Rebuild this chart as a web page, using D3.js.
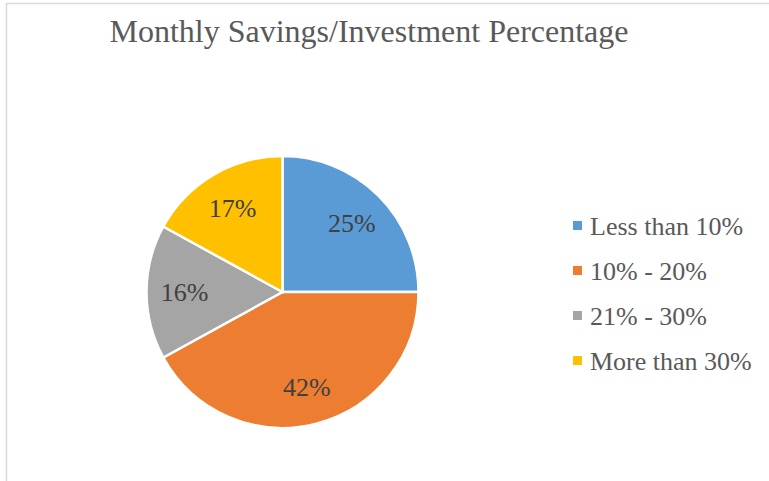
<!DOCTYPE html>
<html>
<head>
<meta charset="utf-8">
<script src="https://cdn.jsdelivr.net/npm/d3@7/dist/d3.min.js"></script>
<style>
  body { margin: 0; background: #fff; }
  text { font-family: "Liberation Serif", "Times New Roman", serif; }
</style>
</head>
<body>
<div id="wrapper"></div>
<script>
// data
const categories = ["Less than 10%", "10% - 20%", "21% - 30%", "More than 30%"];
const shares = [25, 42, 16, 17];
const colors = ["#5B9BD5", "#ED7D31", "#A5A5A5", "#FFC000"];

const width = 769;
const height = 481;
const center = { x: 282.5, y: 292 };
const radius = 136;

const svg = d3.select("#wrapper")
  .append("svg")
    .attr("width", width)
    .attr("height", height);

// chart area border (only top and left edges visible)
svg.append("path")
    .attr("d", `M6.5,${height} V3.5 H${width}`)
    .attr("fill", "none")
    .attr("stroke", "#d9d9d9")
    .attr("stroke-width", 1.5);

svg.append("text")
    .attr("x", 369)
    .attr("y", 42)
    .attr("text-anchor", "middle")
    .attr("fill", "#595959")
    .style("font-size", "32px")
    .text("Monthly Savings/Investment Percentage");

const pie = d3.pie().sort(null).value(d => d);
const arcs = pie(shares);

const arc = d3.arc().innerRadius(0).outerRadius(radius);
const labelArc = d3.arc().innerRadius(radius * 0.72).outerRadius(radius * 0.72);

const pieGroup = svg.append("g")
    .attr("transform", `translate(${center.x},${center.y})`);

pieGroup.selectAll(".slice")
  .data(arcs)
  .join("path")
    .attr("class", "slice")
    .attr("d", arc)
    .attr("fill", (d, i) => colors[i])
    .attr("stroke", "#fff")
    .attr("stroke-width", 2.5);

pieGroup.selectAll(".slice-label")
  .data(arcs)
  .join("text")
    .attr("class", "slice-label")
    .attr("transform", d => `translate(${labelArc.centroid(d)})`)
    .attr("text-anchor", "middle")
    .attr("dy", "0.35em")
    .attr("fill", "#404040")
    .style("font-size", "26px")
    .text(d => d.data + "%");

// legend
const legend = svg.append("g")
    .attr("transform", "translate(573,0)");

const legendY = d3.scalePoint()
    .domain(categories)
    .range([225.5, 360.5]);

legend.selectAll("rect")
  .data(categories)
  .join("rect")
    .attr("x", 0)
    .attr("y", d => legendY(d) - 4.5)
    .attr("width", 9)
    .attr("height", 9)
    .attr("fill", (d, i) => colors[i]);

legend.selectAll(".legend-label")
  .data(categories)
  .join("text")
    .attr("class", "legend-label")
    .attr("x", 17)
    .attr("y", d => legendY(d))
    .attr("dy", "0.35em")
    .attr("fill", "#595959")
    .style("font-size", "26px")
    .text(d => d);
</script>
</body>
</html>
